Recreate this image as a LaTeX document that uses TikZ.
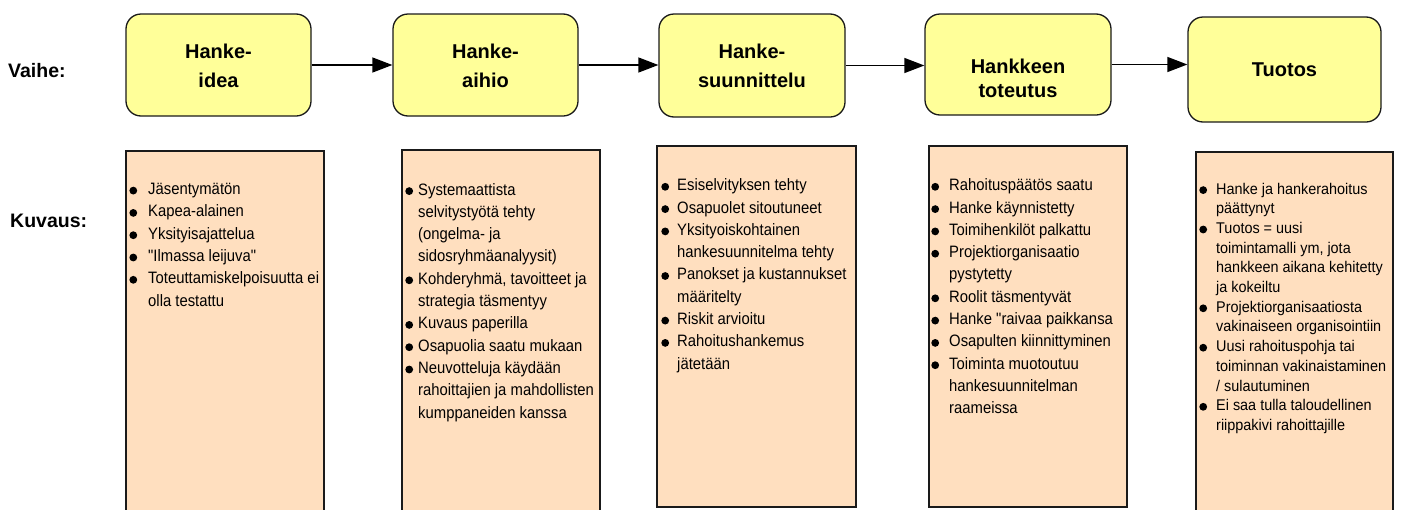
\documentclass[tikz,border=0pt]{standalone}
\usepackage{fontspec}
\setmainfont{Liberation Sans}[Ligatures=TeXOff]
% slightly condensed face for the panel texts
\newfontfamily\descfont{Liberation Sans}[FakeStretch=0.9, Ligatures=TeXOff]
\newfontfamily\outfont{Liberation Sans}[FakeStretch=0.93, Ligatures=TeXOff]
\usetikzlibrary{arrows.meta}

\definecolor{stagefill}{HTML}{FFFF99}
\definecolor{descfill}{HTML}{FFDFBF}
\definecolor{edgeline}{HTML}{1A1A1A}

% round bullet hanging to the left of an item's first line
\newlength\bulgap
\newcommand\bul{\leavevmode\llap{\tikz[baseline=0pt]\fill (0,3.9pt) circle (3.9pt);\hspace{\bulgap}}}

\tikzset{
  stagebox/.style={draw=edgeline, line width=1.3pt, fill=stagefill, rounded corners=15pt, inner sep=0pt},
  stagetitle/.style={align=center, inner sep=0pt, font=\bfseries\fontsize{20}{29}\selectfont},
  descbox/.style={draw=edgeline, line width=1.3pt, fill=descfill, inner sep=0pt},
  desctext/.style={anchor=base west, inner sep=0pt},
  rowlabel/.style={anchor=base west, inner sep=0pt, font=\bfseries\fontsize{19.5}{23}\selectfont},
  flow/.style={draw=black, line width=1.3pt, -{Triangle[length=20pt, width=15pt]}},
}

\begin{document}
\begin{tikzpicture}[x=1pt, y=-1pt]
\clip (0,0) rectangle (1402,509);

% row labels
\node[rowlabel] (vaihe) at (8,77) {Vaihe:};
\node[rowlabel] (kuvaus) at (10,227) {Kuvaus:};

% stages
\node[stagebox, minimum width=185pt, minimum height=102pt] (s1) at (218.5,65) {};
\node[stagebox, minimum width=185pt, minimum height=102pt] (s2) at (485.5,65) {};
\node[stagebox, minimum width=186pt, minimum height=103pt] (s3) at (752,65.5) {};
\node[stagebox, minimum width=186pt, minimum height=101pt] (s4) at (1018,64.5) {};
\node[stagebox, minimum width=193pt, minimum height=105pt] (s5) at (1284.5,69.5) {};

\node[stagetitle] (t1) at (218.5,65.4) {Hanke-\\idea};
\node[stagetitle] (t2) at (485.5,65.4) {Hanke-\\aihio};
\node[stagetitle] (t3) at (752,65.4) {Hanke-\\suunnittelu};
\node[stagetitle, font=\bfseries\fontsize{20}{23.3}\selectfont] (t4) at (1018,78.4) {Hankkeen\\toteutus};
\node[stagetitle] (t5) at (1284.5,69.5) {Tuotos};

% flow between stages
\draw[flow] (s1.east) -- (s1.east -| s2.west);
\draw[flow] (s2.east) -- (s2.east -| s3.west);
\draw[flow] (s3.east) -- (s3.east -| s4.west);
\draw[flow] (s4.east) -- (s4.east -| s5.west);

% description panels
\node[descbox, minimum width=198pt, minimum height=379pt] (da) at (225,340.5) {};
\node[descbox, minimum width=198pt, minimum height=380pt] (db) at (501,340) {};
\node[descbox, minimum width=199pt, minimum height=361pt] (dc) at (756.5,326.5) {};
\node[descbox, minimum width=198pt, minimum height=361pt] (dd) at (1028,326.5) {};
\node[descbox, minimum width=197pt, minimum height=378pt] (de) at (1294.5,341) {};

\node[desctext] (ta) at (148,194.5) {\parbox[t]{200pt}{\descfont\fontsize{16.5}{22.3}\selectfont\setlength\bulgap{11pt}%
\bul Jäsentymätön\\
\bul Kapea-alainen\\
\bul Yksityisajattelua\\
\bul "Ilmassa leijuva"\\
\bul Toteuttamiskelpoisuutta ei\\
olla testattu}};

\node[desctext] (tb) at (418,195) {\parbox[t]{200pt}{\descfont\fontsize{16.5}{22.3}\selectfont\setlength\bulgap{5.1pt}%
\bul Systemaattista\\
selvitystyötä tehty\\
(ongelma- ja\\
sidosryhmäanalyysit)\\
\bul Kohderyhmä, tavoitteet ja\\
strategia täsmentyy\\
\bul Kuvaus paperilla\\
\bul Osapuolia saatu mukaan\\
\bul Neuvotteluja käydään\\
rahoittajien ja mahdollisten\\
kumppaneiden kanssa}};

\node[desctext] (tc) at (677,190.7) {\parbox[t]{200pt}{\descfont\fontsize{16.5}{22.3}\selectfont\setlength\bulgap{8.1pt}%
\bul Esiselvityksen tehty\\
\bul Osapuolet sitoutuneet\\
\bul Yksityoiskohtainen\\
hankesuunnitelma tehty\\
\bul Panokset ja kustannukset\\
määritelty\\
\bul Riskit arvioitu\\
\bul Rahoitushankemus\\
jätetään}};

\node[desctext] (td) at (949,190.7) {\parbox[t]{200pt}{\descfont\fontsize{16.5}{22.3}\selectfont\setlength\bulgap{10.1pt}%
\bul Rahoituspäätös saatu\\
\bul Hanke käynnistetty\\
\bul Toimihenkilöt palkattu\\
\bul Projektiorganisaatio\\
pystytetty\\
\bul Roolit täsmentyvät\\
\bul Hanke "raivaa paikkansa\\
\bul Osapulten kiinnittyminen\\
\bul Toiminta muotoutuu\\
hankesuunnitelman\\
raameissa}};

\node[desctext] (te) at (1216,194) {\parbox[t]{200pt}{\outfont\fontsize{15.5}{19.7}\selectfont\setlength\bulgap{9.1pt}%
\bul Hanke ja hankerahoitus\\
päättynyt\\
\bul Tuotos = uusi\\
toimintamalli ym, jota\\
hankkeen aikana kehitetty\\
ja kokeiltu\\
\bul Projektiorganisaatiosta\\
vakinaiseen organisointiin\\
\bul Uusi rahoituspohja tai\\
toiminnan vakinaistaminen\\
/ sulautuminen\\
\bul Ei saa tulla taloudellinen\\
riippakivi rahoittajille}};
\end{tikzpicture}
\end{document}
